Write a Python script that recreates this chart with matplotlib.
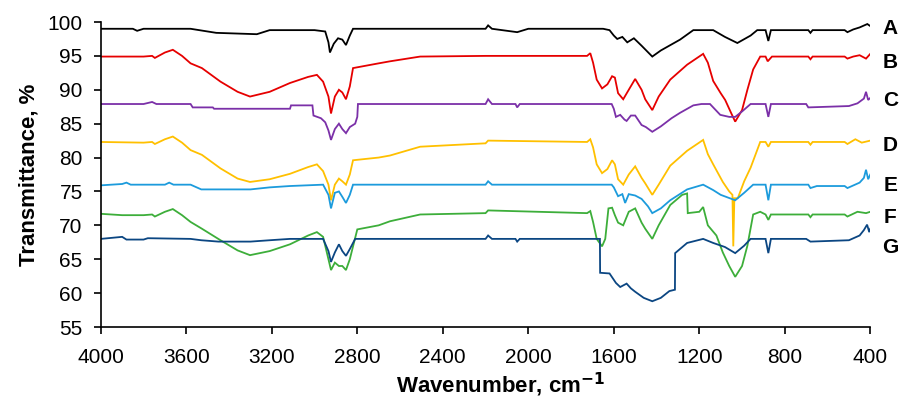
import matplotlib
matplotlib.use("Agg")
import matplotlib.pyplot as plt

# FTIR spectra, (wavenumber, transmittance %)
curve_a = [(4000, 99.0), (3850, 99.0), (3830, 98.7), (3800, 99.0), (3700, 99.0), (3580, 99.0),
           (3460, 98.4), (3270, 98.2), (3210, 98.8), (3000, 98.8), (2950, 98.6), (2935, 97.0),
           (2928, 95.5), (2910, 96.8), (2890, 97.6), (2870, 97.4), (2853, 96.6), (2835, 98.0),
           (2820, 99.0), (2600, 99.0), (2200, 99.0), (2188, 99.5), (2170, 99.0), (2052, 98.5),
           (2000, 99.0), (1650, 99.0), (1620, 98.8), (1600, 98.0), (1584, 97.5), (1560, 97.8),
           (1537, 97.0), (1506, 97.6), (1470, 96.5), (1420, 94.9), (1380, 95.8), (1290, 97.4),
           (1228, 98.8), (1135, 98.8), (1080, 97.8), (1022, 96.9), (960, 98.0), (929, 98.8),
           (890, 98.8), (877, 97.2), (865, 98.8), (690, 98.8), (680, 98.4), (670, 98.8),
           (520, 98.8), (507, 98.5), (480, 98.9), (450, 99.2), (414, 99.7), (400, 99.4)]

curve_b = [(4000, 94.9), (3800, 94.9), (3760, 95.0), (3747, 94.7), (3700, 95.5), (3663, 95.9),
           (3620, 95.0), (3580, 93.9), (3527, 93.2), (3440, 91.2), (3360, 89.7), (3302, 89.0),
           (3210, 89.7), (3115, 91.0), (3030, 91.9), (2989, 92.2), (2960, 91.2), (2935, 89.0),
           (2923, 86.5), (2905, 89.0), (2886, 90.0), (2870, 89.6), (2853, 88.6), (2835, 90.5),
           (2820, 93.2), (2700, 93.9), (2647, 94.2), (2506, 94.9), (2200, 95.0), (1725, 95.0),
           (1710, 95.4), (1697, 94.0), (1680, 91.5), (1655, 90.2), (1630, 90.8), (1608, 92.0),
           (1595, 91.8), (1580, 89.5), (1556, 88.6), (1530, 90.0), (1500, 91.6), (1470, 90.0),
           (1453, 88.6), (1420, 87.0), (1390, 89.0), (1336, 91.5), (1257, 93.7), (1182, 95.3),
           (1160, 94.0), (1135, 91.3), (1100, 89.5), (1079, 88.5), (1050, 86.5), (1032, 85.3),
           (1000, 87.0), (975, 90.0), (948, 93.0), (915, 94.9), (890, 94.9), (880, 94.2),
           (860, 94.9), (690, 94.9), (680, 94.5), (670, 94.9), (520, 94.9), (507, 94.6),
           (480, 94.9), (450, 95.1), (420, 94.6), (400, 95.3)]

curve_c = [(4000, 87.9), (3800, 87.9), (3760, 88.2), (3740, 87.9), (3580, 87.9), (3570, 87.4),
           (3476, 87.4), (3470, 87.2), (3115, 87.2), (3110, 87.7), (3010, 87.7), (3005, 86.2),
           (2970, 85.8), (2950, 85.2), (2935, 84.0), (2923, 82.6), (2905, 84.2), (2886, 85.0),
           (2870, 84.2), (2853, 83.6), (2835, 84.5), (2810, 85.0), (2800, 86.0), (2797, 87.9),
           (2200, 87.9), (2188, 88.6), (2170, 87.9), (2060, 87.9), (2052, 87.4), (2040, 87.9),
           (1610, 87.9), (1600, 87.2), (1590, 86.0), (1570, 86.3), (1550, 85.6), (1540, 85.4),
           (1520, 86.2), (1500, 86.2), (1470, 84.8), (1450, 84.5), (1420, 83.8), (1380, 84.6),
           (1330, 85.8), (1290, 86.6), (1228, 87.7), (1190, 87.9), (1150, 87.9), (1102, 86.3),
           (1060, 86.0), (1032, 86.0), (1000, 86.8), (960, 87.9), (890, 87.9), (877, 86.0),
           (865, 87.9), (700, 87.9), (690, 87.4), (500, 87.6), (460, 88.0), (430, 88.7),
           (420, 89.7), (410, 88.5), (400, 88.8)]

curve_d = [(4000, 82.3), (3800, 82.2), (3760, 82.3), (3747, 82.0), (3700, 82.7), (3663, 83.1),
           (3620, 82.2), (3580, 81.1), (3527, 80.4), (3440, 78.4), (3360, 76.9), (3302, 76.4),
           (3210, 76.8), (3115, 77.6), (3030, 78.6), (2989, 79.0), (2960, 78.0), (2935, 76.0),
           (2923, 73.7), (2905, 76.0), (2886, 76.9), (2870, 76.5), (2853, 76.0), (2835, 77.5),
           (2820, 79.6), (2700, 80.0), (2647, 80.3), (2506, 81.6), (2200, 82.1), (2188, 82.5),
           (1725, 82.3), (1710, 82.7), (1697, 81.5), (1680, 79.0), (1655, 77.7), (1630, 78.3),
           (1608, 79.6), (1595, 79.0), (1580, 76.8), (1556, 76.0), (1530, 77.5), (1500, 78.7),
           (1470, 77.0), (1453, 76.2), (1420, 74.5), (1390, 76.0), (1336, 78.8), (1257, 81.0),
           (1182, 82.6), (1160, 80.5), (1135, 79.0), (1090, 76.4), (1060, 75.0), (1045, 74.5),
           (1041, 66.9), (1036, 74.0), (1020, 74.0), (990, 76.5), (960, 78.5), (915, 82.3),
           (890, 82.3), (877, 81.6), (865, 82.3), (690, 82.3), (680, 81.9), (670, 82.3),
           (520, 82.3), (507, 82.0), (470, 82.7), (440, 82.2), (400, 82.5)]

curve_e = [(4000, 75.9), (3900, 76.1), (3880, 76.3), (3860, 76.0), (3700, 76.0), (3680, 76.3),
           (3660, 76.0), (3580, 76.0), (3530, 75.3), (3300, 75.3), (3210, 75.6), (3115, 75.8),
           (2960, 76.0), (2935, 74.5), (2923, 72.5), (2905, 74.8), (2886, 75.0), (2870, 74.2),
           (2853, 73.3), (2835, 74.5), (2820, 76.0), (2200, 76.0), (2188, 76.5), (2170, 76.0),
           (1610, 76.0), (1600, 75.6), (1580, 74.3), (1560, 74.6), (1547, 73.3), (1530, 74.6),
           (1500, 74.4), (1470, 73.9), (1440, 72.8), (1420, 71.8), (1380, 72.5), (1336, 73.7),
           (1257, 75.3), (1182, 76.0), (1135, 75.2), (1100, 74.5), (1032, 73.7), (990, 74.8),
           (948, 76.0), (890, 76.0), (877, 73.7), (865, 76.0), (690, 76.0), (680, 75.5),
           (650, 75.8), (520, 75.8), (507, 75.5), (450, 76.3), (430, 77.0), (420, 78.2),
           (410, 76.8), (400, 77.5)]

curve_f = [(4000, 71.7), (3900, 71.5), (3800, 71.5), (3760, 71.6), (3747, 71.3), (3700, 72.0),
           (3663, 72.4), (3620, 71.5), (3580, 70.5), (3527, 69.5), (3440, 67.8), (3360, 66.3),
           (3302, 65.6), (3210, 66.2), (3115, 67.2), (3030, 68.5), (2989, 69.0), (2960, 68.3),
           (2935, 65.0), (2923, 63.4), (2905, 64.5), (2886, 64.0), (2870, 64.0), (2853, 63.4),
           (2835, 65.0), (2800, 69.4), (2700, 70.0), (2647, 70.6), (2506, 71.6), (2200, 71.8),
           (2188, 72.2), (1725, 71.8), (1710, 72.1), (1697, 70.5), (1680, 68.0), (1655, 66.9),
           (1640, 68.0), (1625, 72.5), (1608, 72.6), (1595, 71.5), (1580, 70.4), (1556, 70.0),
           (1530, 72.0), (1500, 72.5), (1470, 70.4), (1453, 69.5), (1420, 68.0), (1390, 70.0),
           (1336, 73.0), (1280, 74.5), (1257, 74.7), (1254, 71.8), (1200, 72.0), (1182, 72.7),
           (1160, 70.0), (1120, 68.5), (1090, 66.0), (1060, 64.0), (1032, 62.4), (1000, 64.0),
           (975, 67.0), (948, 71.6), (915, 72.0), (890, 71.6), (877, 70.8), (865, 71.6),
           (690, 71.6), (680, 71.2), (670, 71.6), (520, 71.6), (507, 71.3), (460, 72.0),
           (420, 71.8), (400, 72.0)]

curve_g = [(4000, 68.0), (3900, 68.3), (3880, 67.9), (3800, 67.9), (3780, 68.1), (3580, 68.0),
           (3530, 67.8), (3450, 67.6), (3300, 67.6), (3210, 67.8), (3115, 68.0), (2960, 68.0),
           (2935, 66.2), (2923, 64.6), (2905, 66.0), (2886, 67.2), (2870, 66.2), (2853, 65.5),
           (2835, 66.5), (2810, 68.0), (2200, 68.0), (2188, 68.5), (2170, 68.0), (2060, 68.0),
           (2052, 67.6), (2040, 68.0), (1665, 68.0), (1664, 63.0), (1620, 62.9), (1590, 61.5),
           (1570, 60.9), (1540, 61.4), (1520, 60.7), (1500, 60.2), (1460, 59.3), (1420, 58.8),
           (1380, 59.3), (1340, 60.3), (1314, 60.5), (1313, 65.9), (1257, 67.4), (1182, 68.0),
           (1135, 67.4), (1080, 66.8), (1032, 65.9), (990, 67.0), (960, 68.0), (890, 68.0),
           (877, 65.9), (865, 68.0), (700, 68.0), (680, 67.6), (500, 67.8), (450, 68.5),
           (430, 69.3), (415, 70.1), (405, 69.0), (400, 69.5)]

names = ["A", "B", "C", "D", "E", "F", "G"]
curves = [curve_a, curve_b, curve_c, curve_d, curve_e, curve_f, curve_g]
colors = ["#000000", "#E60000", "#7B30A8", "#FFC000", "#1C9BDC", "#3DAE3A", "#0B4682"]
label_y = [99.0, 94.0, 88.4, 81.8, 75.9, 71.2, 66.8]

plt.rcParams["font.family"] = ["Liberation Sans", "DejaVu Sans"]

fig = plt.figure(figsize=(9, 4), dpi=100)
ax = fig.add_axes([0.112, 0.1825, 0.855, 0.7625])

for name, pts, col, ly in zip(names, curves, colors, label_y):
    wn = [p[0] for p in pts]
    t = [p[1] for p in pts]
    ax.plot(wn, t, color=col, lw=1.3, solid_joinstyle="miter")
    ax.text(1.026, (ly - 55) / 45, name, transform=ax.transAxes, ha="center", va="center",
            fontsize=15, fontweight="bold")

ax.set_xlim(4000, 400)
ax.set_ylim(55, 100)
ax.set_xticks(range(4000, 399, -400))
ax.set_yticks(range(55, 101, 5))
ax.tick_params(labelsize=15, length=5, width=1.2, direction="out")
ax.tick_params(axis="y", pad=8)
ax.tick_params(axis="x", pad=10)
for side in ["top", "right"]:
    ax.spines[side].set_visible(False)
for side in ["left", "bottom"]:
    ax.spines[side].set_linewidth(1.2)

ax.set_xlabel("Wavenumber, cm$^{\\mathbf{-1}}$", fontsize=16, fontweight="bold")
ax.xaxis.set_label_coords(0.52, -0.145)
ax.set_ylabel("Transmittance, %", fontsize=16, fontweight="bold", labelpad=6)

fig.savefig("out.png", dpi=100)
